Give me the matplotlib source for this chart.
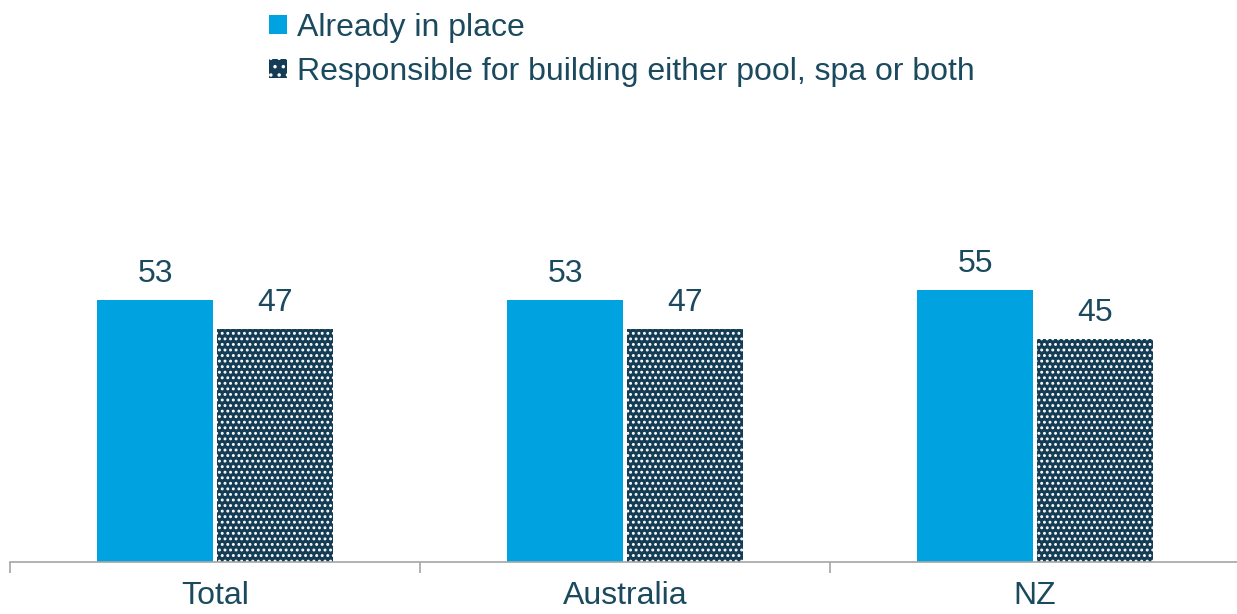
import numpy as np
import matplotlib.pyplot as plt
from matplotlib.patches import Patch

# Datos
regiones = ['Total', 'Australia', 'NZ']
ya_instalado = [53, 53, 55]
responsable = [47, 47, 45]
series = ['Already in place', 'Responsible for building either pool, spa or both']

azul = '#00A3E0'
oscuro = '#143D55'
texto = '#1B4A5E'
gris = '#A6A6A6'

plt.rcParams['font.family'] = ['Liberation Sans', 'DejaVu Sans']
plt.rcParams['hatch.color'] = 'white'
plt.rcParams['hatch.linewidth'] = 1.3

fig = plt.figure(figsize=(12.37, 6.14), dpi=100)
ax = fig.add_axes([10 / 1237, 52 / 614, 1230 / 1237, 0.806])

x = np.arange(len(regiones))
ancho = 0.283
desp = 0.146

b1 = ax.bar(x - desp, ya_instalado, ancho, color=azul, linewidth=0)
b2 = ax.bar(x + desp, responsable, ancho, color=oscuro, edgecolor='white',
            linewidth=0, hatch='...')

ax.bar_label(b1, padding=8, fontsize=23, color=texto)
ax.bar_label(b2, padding=8, fontsize=23, color=texto)

ax.set_xlim(-0.5, 2.5)
ax.set_ylim(0, 100)

for lado in ['top', 'right', 'left']:
    ax.spines[lado].set_visible(False)
ax.spines['bottom'].set_color(gris)
ax.spines['bottom'].set_linewidth(1.2)
ax.set_yticks([])

ax.set_xticks(x)
ax.set_xticklabels(regiones, fontsize=23, color=texto)
ax.tick_params(axis='x', which='major', length=0, pad=14)
ax.set_xticks(np.arange(-0.5, 3, 1), minor=True)
ax.tick_params(axis='x', which='minor', length=8, width=1.2, color=gris)

handles = [Patch(facecolor=azul, linewidth=0),
           Patch(facecolor=oscuro, edgecolor='white', linewidth=0, hatch='..')]
fig.legend(handles, series, loc='upper left', bbox_to_anchor=(247 / 1237, 1.015),
           frameon=False, fontsize=23, labelcolor=texto,
           handlelength=0.55, handleheight=0.55, handletextpad=0.3,
           labelspacing=0.42, borderpad=0.2)

fig.savefig('out.png', dpi=100)
